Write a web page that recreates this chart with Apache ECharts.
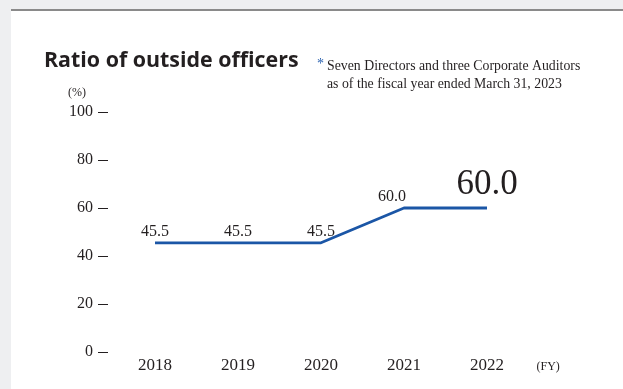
<!DOCTYPE html>
<html>
<head>
<meta charset="utf-8">
<script src="https://cdn.jsdelivr.net/npm/echarts@6/dist/echarts.min.js"></script>
<style>
  html, body { margin: 0; padding: 0; background: #eeeff1; }
  #chart { width: 623px; height: 389px; }
</style>
</head>
<body>
<div id="chart"></div>
<script>
// Fiscal years and ratio of outside officers (%)
const years = ['2018', '2019', '2020', '2021', '2022'];
const ratios = [45.5, 45.5, 45.5, 60.0, 60.0];
const yTicks = [0, 20, 40, 60, 80, 100];

const serif = '"Liberation Serif", "Times New Roman", serif';
const sans = '"Open Sans", "Noto Sans", sans-serif';
const lineColor = '#1b56a6';
const textColor = '#231f20';

const chart = echarts.init(document.getElementById('chart'));

const lastIdx = ratios.length - 1;
const seriesData = ratios.map((v, i) => {
  const item = { value: v };
  if (i === lastIdx) {
    // latest year is emphasised with a large figure
    item.label = { fontSize: 35, distance: 5 };
  } else if (i === 3) {
    item.label = { offset: [-12, 0] };
  }
  return item;
});

chart.setOption({
  animation: false,
  backgroundColor: 'transparent',
  graphic: [
    // white card with grey top rule
    { type: 'rect', left: 11, top: 11, shape: { width: 612, height: 378 }, style: { fill: '#ffffff' }, silent: true },
    { type: 'rect', left: 11, top: 9, shape: { width: 612, height: 2 }, style: { fill: '#8a8a8a' }, silent: true },
    { type: 'text', left: 44, top: 50, style: { text: 'Ratio of outside officers', font: '700 21.4px ' + sans, fill: textColor } },
    { type: 'text', left: 317, top: 57, style: { text: '*', font: '14px ' + serif, fill: '#2a62b0' } },
    { type: 'text', left: 327, top: 57, style: { text: 'Seven Directors and three Corporate Auditors\nas of the fiscal year ended March 31, 2023', font: '13.8px ' + serif, fill: textColor, lineHeight: 18 } },
    { type: 'text', left: 68, top: 87, style: { text: '(%)', font: '12px ' + serif, fill: textColor } }
  ],
  grid: { left: 113.5, right: 94.5, top: 112, bottom: 37 },
  xAxis: {
    type: 'category',
    data: years,
    boundaryGap: true,
    axisLine: { show: false },
    axisTick: { show: false },
    axisLabel: { margin: 5, fontFamily: serif, fontSize: 17, color: textColor, verticalAlign: 'top' },
    name: '(FY)',
    nameLocation: 'end',
    nameGap: 8,
    nameTextStyle: { fontFamily: serif, fontSize: 12, color: textColor, verticalAlign: 'top', padding: [9, 0, 0, 0] }
  },
  yAxis: {
    type: 'value',
    min: 0,
    max: 100,
    interval: 20,
    offset: 5.5,
    splitLine: { show: false },
    axisLine: { show: false },
    axisTick: { show: true, length: 10, lineStyle: { color: textColor, width: 1 } },
    axisLabel: {
      margin: 15,
      fontFamily: serif,
      fontSize: 16,
      color: textColor,
      customValues: yTicks
    }
  },
  series: [{
    type: 'line',
    data: seriesData,
    symbol: 'circle',
    symbolSize: 1,
    showSymbol: true,
    itemStyle: { color: 'rgba(0,0,0,0)' },
    lineStyle: { color: lineColor, width: 2.8 },
    label: {
      show: true,
      position: 'top',
      distance: 3,
      formatter: p => p.value.toFixed(1),
      fontFamily: serif,
      fontSize: 16,
      color: textColor
    }
  }]
});
</script>
</body>
</html>
